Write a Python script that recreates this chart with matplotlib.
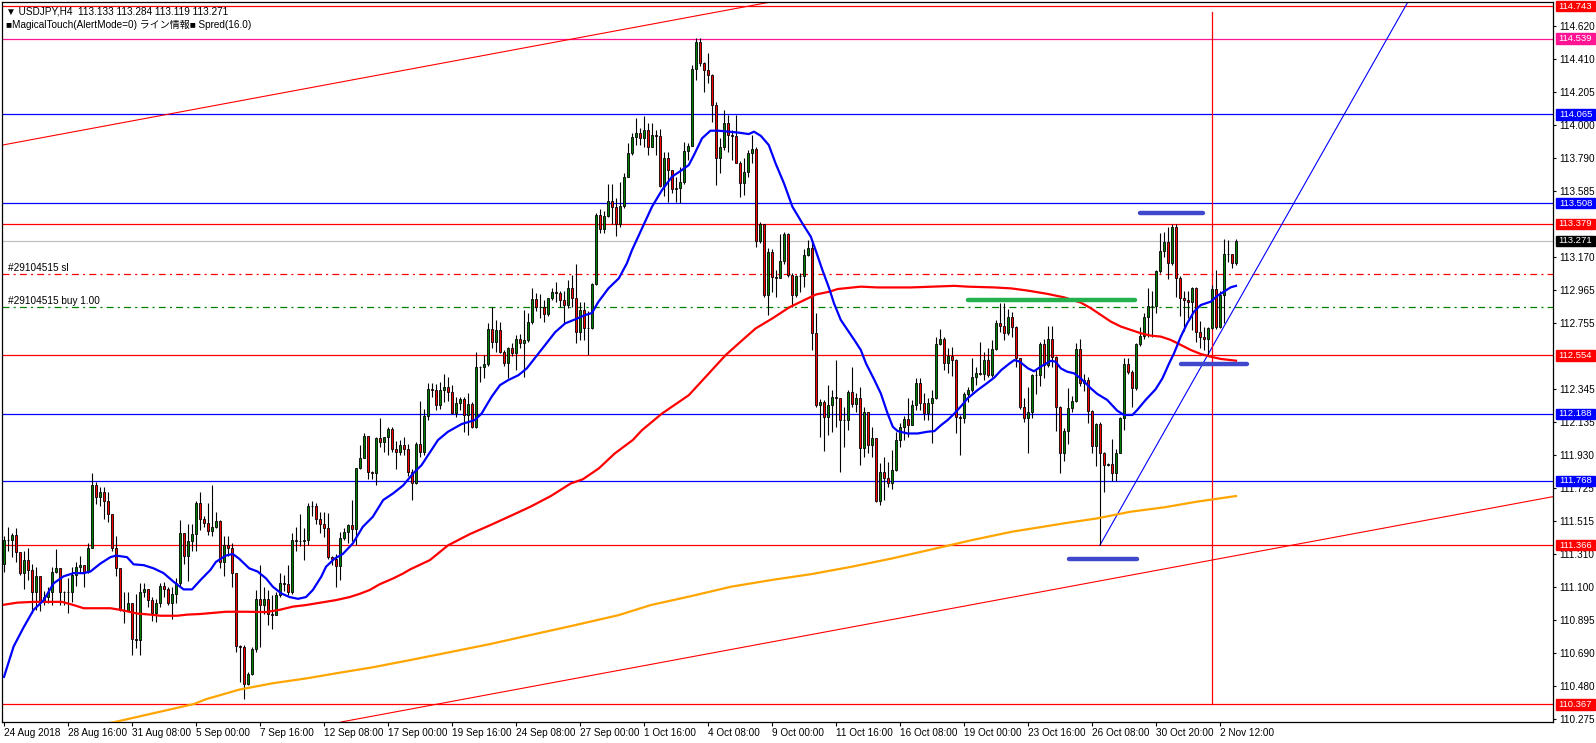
import matplotlib
matplotlib.use('Agg')
import matplotlib.pyplot as plt
import numpy as np
from matplotlib.patches import Rectangle
from matplotlib.transforms import blended_transform_factory

# USDJPY H4 candles, index = bar number from the left edge
first_open = 111.25
closes = [
    111.40, 111.40, 111.43, 111.32, 111.19, 111.27, 111.21, 111.07, 111.17, 111.01,
    111.04, 111.07, 111.20, 111.22, 111.07, 111.07, 111.07, 111.18, 111.23, 111.24,
    111.20, 111.35, 111.74, 111.67, 111.70, 111.64, 111.56, 111.35, 111.22, 110.96,
    110.955, 111.00, 110.775, 110.77, 111.07, 111.09, 111.02, 110.94, 111.00, 111.11,
    111.09, 111.00, 111.06, 111.13, 111.44, 111.30, 111.39, 111.435, 111.63, 111.53,
    111.506, 111.456, 111.48, 111.516, 111.261, 111.366, 111.345, 111.188, 110.733, 110.73,
    110.494, 110.561, 110.712, 111.031, 110.99, 111.031, 110.937, 110.93, 111.05, 111.125,
    111.12, 111.073, 111.397, 111.39, 111.39, 111.40, 111.61, 111.61, 111.527, 111.50,
    111.47, 111.288, 111.28, 111.234, 111.408, 111.45, 111.491, 111.464, 111.846, 111.909,
    112.049, 111.825, 111.82, 112.034, 112.013, 112.04, 112.093, 111.965, 111.95, 111.992,
    111.97, 111.825, 111.756, 111.999, 111.95, 112.174, 112.341, 112.34, 112.243, 112.337,
    112.358, 112.326, 112.195, 112.253, 112.28, 112.18, 112.249, 112.107, 112.479, 112.479,
    112.50, 112.717, 112.64, 112.713, 112.577, 112.508, 112.598, 112.57, 112.66, 112.629,
    112.65, 112.765, 112.905, 112.859, 112.86, 112.813, 112.911, 112.953, 112.943, 112.90,
    112.87, 112.974, 112.911, 112.702, 112.838, 112.723, 112.725, 113.001, 113.434, 113.344,
    113.427, 113.521, 113.486, 113.377, 113.49, 113.674, 113.82, 113.92, 113.945, 113.914,
    113.966, 113.862, 113.935, 113.93, 113.615, 113.789, 113.716, 113.594, 113.60, 113.642,
    113.837, 113.866, 114.347, 114.52, 114.384, 114.342, 114.311, 114.123, 113.789, 113.862,
    114.012, 113.935, 113.93, 113.762, 113.632, 113.705, 113.824, 113.847, 113.273, 113.377,
    112.932, 113.204, 113.043, 113.04, 113.147, 113.314, 113.058, 112.932, 113.051, 113.05,
    113.183, 113.225, 112.696, 112.243, 112.265, 112.17, 112.243, 112.295, 112.29, 112.149,
    112.15, 112.326, 112.249, 112.285, 111.977, 112.201, 111.992, 112.034, 111.643, 111.825,
    111.783, 111.752, 111.836, 112.024, 112.107, 112.153, 112.12, 112.243, 112.383, 112.258,
    112.195, 112.253, 112.285, 112.625, 112.66, 112.504, 112.55, 112.525, 112.166, 112.16,
    112.312, 112.34, 112.416, 112.441, 112.44, 112.525, 112.431, 112.592, 112.759, 112.738,
    112.692, 112.792, 112.73, 112.535, 112.228, 112.159, 112.201, 112.432, 112.43, 112.626,
    112.494, 112.655, 112.546, 112.233, 111.941, 112.083, 112.222, 112.271, 112.592, 112.38,
    112.40, 112.208, 111.987, 112.124, 111.941, 111.868, 111.874, 111.815, 111.941, 112.16,
    112.50, 112.452, 112.348, 112.626, 112.676, 112.793, 112.864, 112.864, 113.083, 113.211,
    113.263, 113.131, 113.357, 113.037, 112.912, 112.902, 112.891, 112.975, 112.703, 112.671,
    112.655, 112.724, 112.968, 112.735, 112.933, 113.19, 113.19, 113.133, 113.271,
]
highs = [
    111.42, 111.48, 111.44, 111.47, 111.32, 111.33, 111.35, 111.25, 111.23, 111.17,
    111.08, 111.10, 111.23, 111.34, 111.22, 111.08, 111.16, 111.23, 111.26, 111.30,
    111.24, 111.38, 111.82, 111.76, 111.73, 111.73, 111.70, 111.56, 111.42, 111.22,
    111.07, 111.07, 111.00, 111.06, 111.13, 111.125, 111.08, 111.04, 111.025, 111.125,
    111.135, 111.10, 111.105, 111.157, 111.52, 111.44, 111.50, 111.50, 111.64, 111.70,
    111.55, 111.63, 111.74, 111.575, 111.52, 111.42, 111.42, 111.376, 111.19, 110.74,
    110.74, 110.572, 110.725, 111.084, 111.24, 111.105, 111.084, 111.05, 111.073, 111.188,
    111.18, 111.24, 111.44, 111.48, 111.56, 111.47, 111.627, 111.64, 111.627, 111.573,
    111.573, 111.568, 111.30, 111.31, 111.45, 111.47, 111.50, 111.65, 111.85, 111.99,
    112.065, 112.04, 111.83, 112.04, 112.16, 112.045, 112.107, 112.107, 112.02, 112.025,
    112.045, 112.00, 111.84, 112.01, 112.27, 112.22, 112.379, 112.38, 112.378, 112.39,
    112.437, 112.42, 112.37, 112.295, 112.295, 112.295, 112.316, 112.264, 112.577, 112.49,
    112.556, 112.76, 112.86, 112.775, 112.765, 112.587, 112.608, 112.63, 112.682, 112.69,
    112.84, 112.817, 112.974, 112.943, 112.94, 112.90, 112.915, 112.974, 113.015, 112.96,
    112.96, 113.026, 113.057, 113.126, 112.89, 112.89, 112.83, 113.01, 113.444, 113.47,
    113.46, 113.626, 113.63, 113.538, 113.643, 113.70, 113.883, 113.945, 114.04, 113.977,
    114.054, 114.008, 114.008, 113.966, 113.97, 113.83, 113.83, 113.716, 113.67, 113.737,
    113.893, 113.883, 114.374, 114.54, 114.54, 114.395, 114.447, 114.32, 114.144, 113.914,
    114.092, 114.06, 113.966, 114.06, 113.77, 113.79, 113.84, 113.935, 113.86, 113.392,
    113.38, 113.225, 113.22, 113.09, 113.315, 113.33, 113.323, 113.07, 113.058, 113.07,
    113.218, 113.277, 113.277, 112.82, 112.28, 112.275, 112.368, 112.337, 112.525, 112.29,
    112.23, 112.337, 112.483, 112.316, 112.358, 112.232, 112.149, 112.107, 112.034, 111.881,
    111.919, 111.888, 111.961, 112.076, 112.128, 112.174, 112.285, 112.274, 112.41, 112.41,
    112.316, 112.285, 112.337, 112.671, 112.717, 112.671, 112.60, 112.608, 112.53, 112.18,
    112.326, 112.358, 112.535, 112.483, 112.64, 112.577, 112.60, 112.65, 112.776, 112.88,
    112.88, 112.842, 112.828, 112.74, 112.54, 112.285, 112.358, 112.44, 112.46, 112.64,
    112.66, 112.74, 112.74, 112.55, 112.24, 112.10, 112.35, 112.30, 112.63, 112.66,
    112.44, 112.42, 112.21, 112.13, 112.14, 111.95, 111.88, 112.03, 111.97, 112.17,
    112.535, 112.535, 112.46, 112.63, 112.735, 112.82, 112.975, 112.96, 113.09, 113.32,
    113.33, 113.36, 113.378, 113.378, 113.05, 112.96, 112.96, 112.985, 112.985, 112.77,
    112.735, 112.735, 112.995, 113.09, 112.96, 113.282, 113.28, 113.18, 113.284,
]
lows = [
    111.20, 111.33, 111.29, 111.26, 111.18, 111.09, 111.15, 110.94, 110.96, 110.95,
    110.99, 111.00, 110.99, 111.19, 110.99, 110.99, 110.94, 111.01, 111.11, 111.20,
    111.10, 111.19, 111.35, 111.62, 111.61, 111.53, 111.51, 111.33, 111.17, 110.95,
    110.875, 110.95, 110.68, 110.72, 110.68, 111.04, 110.98, 110.89, 110.885, 110.98,
    111.04, 110.99, 110.90, 111.00, 111.105, 111.25, 111.14, 111.33, 111.33, 111.46,
    111.48, 111.43, 111.42, 111.47, 111.22, 111.17, 111.30, 111.105, 110.697, 110.51,
    110.40, 110.49, 110.55, 110.697, 110.73, 110.937, 110.864, 110.84, 110.937, 111.04,
    111.08, 111.05, 111.06, 111.33, 111.36, 111.27, 111.365, 111.545, 111.50, 111.44,
    111.418, 111.28, 111.24, 111.10, 111.15, 111.40, 111.38, 111.39, 111.366, 111.84,
    111.91, 111.777, 111.777, 111.742, 111.98, 111.95, 111.93, 111.95, 111.84, 111.93,
    111.93, 111.80, 111.65, 111.75, 111.92, 111.93, 112.15, 112.295, 112.21, 112.22,
    112.264, 112.27, 112.186, 112.17, 112.21, 112.076, 112.055, 112.097, 112.097, 112.39,
    112.41, 112.49, 112.598, 112.577, 112.57, 112.49, 112.41, 112.55, 112.462, 112.60,
    112.42, 112.64, 112.75, 112.83, 112.786, 112.765, 112.80, 112.90, 112.89, 112.86,
    112.755, 112.85, 112.86, 112.63, 112.65, 112.65, 112.556, 112.72, 112.995, 113.323,
    113.32, 113.42, 113.38, 113.30, 113.357, 113.48, 113.685, 113.81, 113.873, 113.873,
    113.862, 113.81, 113.858, 113.81, 113.61, 113.55, 113.517, 113.57, 113.517, 113.507,
    113.63, 113.78, 113.866, 114.28, 114.37, 114.207, 114.259, 114.018, 113.622, 113.695,
    113.84, 113.83, 113.78, 113.757, 113.548, 113.559, 113.674, 113.757, 113.235, 113.256,
    112.92, 112.807, 112.953, 112.92, 113.037, 113.13, 113.047, 112.86, 112.92, 112.953,
    112.985, 113.175, 112.588, 112.232, 112.044, 111.957, 112.055, 112.076, 112.107, 111.825,
    111.98, 112.086, 112.23, 112.201, 111.867, 111.92, 111.94, 111.92, 111.637, 111.616,
    111.648, 111.731, 111.72, 111.83, 111.98, 112.024, 112.045, 112.128, 112.21, 112.21,
    112.149, 112.149, 112.003, 112.28, 112.62, 112.462, 112.441, 112.425, 112.065, 111.93,
    112.128, 112.264, 112.327, 112.368, 112.43, 112.40, 112.42, 112.42, 112.59, 112.70,
    112.65, 112.68, 112.67, 112.483, 112.22, 112.139, 111.944, 112.16, 112.31, 112.36,
    112.41, 112.48, 112.48, 112.08, 111.815, 111.89, 112.00, 112.20, 112.26, 112.36,
    112.33, 112.13, 111.94, 111.86, 111.366, 111.70, 111.86, 111.77, 111.77, 111.94,
    112.087, 112.44, 112.233, 112.34, 112.61, 112.66, 112.67, 112.67, 112.82, 113.07,
    113.17, 113.03, 113.12, 112.92, 112.80, 112.71, 112.79, 112.715, 112.64, 112.60,
    112.59, 112.557, 112.72, 112.72, 112.725, 112.755, 113.142, 113.10, 113.119,
]

# moving averages (bar, price)
ma_fast_bar = [0, 2.4, 4.9, 7.4, 9.9, 12.4, 14.9, 17.4, 19.9, 21.6, 24.1, 26.6, 28, 30.75,
               32.4, 34.9, 37.4, 39.9, 42.4, 44.9, 47, 49.1, 51.6, 53, 55.5, 57.2, 58.8,
               61.3, 63.4, 65.5, 67.2, 69.3, 71.4, 73.5, 75.5, 77.2, 79.3, 80.5, 82.6, 84.7,
               87.2, 89.7, 92.2, 94.8, 97.3, 99.8, 102.3, 104.4, 108.5, 111, 114.4, 117.7,
               119.4, 121.9, 124, 126.1, 128.6, 130.7, 132.8, 135.3, 137.8, 140.3, 142.8,
               145.3, 147, 148.6, 151.1, 153.7, 155.7, 157, 159.5, 162, 164.5, 167, 169.5,
               171.2, 172.5, 174.5, 176.6, 178.7, 181.2, 183.7, 186.2, 187.5, 189.2, 191.2,
               192.9, 195, 197.1, 199.6, 201.7, 202.9, 204.6, 206.3, 207.5, 209.2, 210.9,
               212.6, 214.2, 215.5, 217.6, 219.2, 220.9, 222.2, 223.4, 225.9, 228.4, 230.9,
               232.6, 234.3, 235.9, 237.6, 239.3, 240.9, 243.4, 245.9, 247.6, 249.3, 251.4,
               252.6, 253.9, 256, 257.5, 259.2, 261.7, 262.9, 264.2, 265.8, 267.5, 269.2,
               271.7, 273.3, 275.8, 278.3, 280, 282.1, 283.3, 285.4, 287.9, 289.6, 291.3,
               292.5, 294.2, 295.8, 297.5, 299.2, 301.7, 303.3, 305, 306.7, 308]
ma_fast = [110.54, 110.73, 110.85, 110.96, 111.02, 111.126, 111.17, 111.19, 111.19, 111.20,
           111.25, 111.29, 111.30, 111.29, 111.245, 111.24, 111.22, 111.19, 111.136, 111.088,
           111.088, 111.146, 111.21, 111.261, 111.30, 111.31, 111.28, 111.22, 111.20, 111.157,
           111.105, 111.063, 111.04, 111.029, 111.04, 111.084, 111.167, 111.23, 111.28,
           111.31, 111.376, 111.48, 111.543, 111.648, 111.69, 111.74, 111.815, 111.867,
           112.024, 112.076, 112.124, 112.149, 112.19, 112.295, 112.368, 112.40, 112.43,
           112.473, 112.54, 112.62, 112.70, 112.755, 112.78, 112.807, 112.82, 112.89, 112.974,
           113.037, 113.13, 113.214, 113.35, 113.486, 113.59, 113.674, 113.716, 113.747,
           113.81, 113.914, 113.962, 113.962, 113.956, 113.95, 113.941, 113.956, 113.93,
           113.872, 113.757, 113.632, 113.486, 113.381, 113.298, 113.214, 113.089, 112.974,
           112.88, 112.776, 112.713, 112.65, 112.588, 112.504, 112.40, 112.316, 112.19,
           112.107, 112.08, 112.065, 112.065, 112.076, 112.08, 112.118, 112.149, 112.19,
           112.237, 112.285, 112.337, 112.383, 112.416, 112.462, 112.504, 112.525, 112.515,
           112.473, 112.455, 112.484, 112.52, 112.515, 112.473, 112.452, 112.442, 112.41,
           112.348, 112.313, 112.275, 112.208, 112.181, 112.181, 112.212, 112.275, 112.342,
           112.41, 112.505, 112.567, 112.672, 112.755, 112.828, 112.87, 112.891, 112.927,
           112.954, 112.981, 112.99]

ma_mid_bar = [0, 3.3, 7.4, 14.5, 17.4, 19.9, 26.6, 29.1, 33.3, 36.6, 39.1, 43.3, 45.8, 49.1,
              55.5, 60.5, 65.5, 68.9, 72.2, 75.5, 78.9, 83, 86.4, 88.9, 91.4, 93.9, 97.3,
              99.8, 101.5, 106.5, 111, 116.5, 121.6, 126.6, 131.6, 136.7, 141.7, 144.7, 148.7,
              152.7, 157.2, 159.5, 164.5, 171.2, 176.2, 180.4, 183.7, 187.9, 192.1, 196.3,
              200.4, 203, 206.3, 208.4, 214.2, 218.4, 226.7, 237.6, 240.9, 247.6, 251.8, 256,
              260.8, 265, 269.2, 271.7, 274.2, 276.7, 279.2, 281.7, 284.2, 286.7, 289.2, 291.7,
              294.2, 296.7, 299.2, 301.7, 304.2, 308]
ma_mid = [110.992, 111.005, 111.01, 111.01, 110.99, 110.97, 110.97, 110.96, 110.937, 110.93,
          110.923, 110.923, 110.93, 110.934, 110.948, 110.948, 110.946, 110.96, 110.98, 110.99,
          111.004, 111.021, 111.04, 111.06, 111.084, 111.12, 111.157, 111.188, 111.213, 111.272,
          111.364, 111.435, 111.491, 111.548, 111.606, 111.673, 111.752, 111.778, 111.846,
          111.94, 112.024, 112.086, 112.19, 112.305, 112.441, 112.556, 112.63, 112.723, 112.786,
          112.855, 112.905, 112.936, 112.953, 112.97, 112.985, 112.98, 112.98, 112.99, 112.985,
          112.98, 112.974, 112.96, 112.94, 112.918, 112.885, 112.85, 112.808, 112.766, 112.735,
          112.714, 112.693, 112.678, 112.672, 112.651, 112.62, 112.588, 112.563, 112.546,
          112.532, 112.521]

ma_slow_bar = [20, 27.7, 47.5, 50.5, 58.8, 67.2, 75.5, 83.9, 92.2, 101.5, 111.5, 121.6, 131.6,
               141.7, 153.7, 161.7, 171.8, 181.8, 191.9, 201.9, 211.9, 222, 232, 242, 252.1,
               258.9, 265, 273.3, 281.7, 290, 298.3, 308]
ma_slow = [110.225, 110.257, 110.37, 110.40, 110.46, 110.50, 110.53, 110.566, 110.60, 110.645,
           110.695, 110.746, 110.802, 110.858, 110.927, 110.99, 111.046, 111.105, 111.147,
           111.184, 111.23, 111.282, 111.339, 111.397, 111.45, 111.477, 111.502, 111.533,
           111.575, 111.602, 111.638, 111.673]

# horizontal line objects and their colours
levels = [114.743, 114.539, 114.065, 113.508, 113.379, 112.554, 112.188, 111.768, 111.366, 110.367]
level_colors = ['#FF0000', '#FF1493', '#0000FF', '#0000FF', '#FF0000', '#FF0000',
                '#0000FF', '#0000FF', '#FF0000', '#FF0000']
bid = 113.271
sl_level = 113.062
buy_level = 112.855

# trend lines (bar, price) pairs
channel_top = [(0, 113.874), (192, 114.770)]
channel_bottom = [(84, 110.256), (387, 111.668)]
uptrend = [(274, 111.366), (351, 114.770)]
vline_bar = 302
vline_range = (110.367, 114.705)

# thick marker segments: (bar start, bar end, price)
blue_marks = [(266.25, 283.25, 111.277), (284.0, 299.75, 113.447), (294.25, 310.75, 112.50)]
green_marks = [(241.0, 282.75, 112.90)]

yticks = [114.620, 114.410, 114.205, 114.000, 113.790, 113.585, 113.170, 112.965, 112.755,
          112.345, 112.135, 111.930, 111.725, 111.515, 111.310, 111.100, 110.895, 110.690,
          110.480, 110.275]
date_labels = ['24 Aug 2018', '28 Aug 16:00', '31 Aug 08:00', '5 Sep 00:00', '7 Sep 16:00',
               '12 Sep 08:00', '17 Sep 00:00', '19 Sep 16:00', '24 Sep 08:00', '27 Sep 00:00',
               '1 Oct 16:00', '4 Oct 08:00', '9 Oct 00:00', '11 Oct 16:00', '16 Oct 08:00',
               '19 Oct 00:00', '23 Oct 16:00', '26 Oct 08:00', '30 Oct 20:00', '2 Nov 12:00']
date_bars = [16 * k for k in range(len(date_labels))]

plt.rcParams['font.family'] = ['Liberation Sans', 'Noto Sans CJK JP', 'DejaVu Sans']
plt.rcParams['lines.scale_dashes'] = False
FS = 7.2
TAG_FS = 6.8

W, H = 1596, 743
fig = plt.figure(figsize=(W / 100, H / 100), dpi=100)
ax = fig.add_axes([2 / W, 1 - 722 / H, 1551 / W, 720 / H])
ax.set_xlim(-0.5, 387.25)
ax.set_ylim(110.2572, 114.7685)

closes = np.array(closes)
opens = np.concatenate([[first_open], closes[:-1]])
highs = np.maximum(np.array(highs), np.maximum(opens, closes))
lows = np.minimum(np.array(lows), np.minimum(opens, closes))
idx = np.arange(len(closes))

# horizontal levels
for lv, col in zip(levels, level_colors):
    ax.axhline(lv, color=col, lw=0.9, zorder=1)
ax.axhline(bid, color='#C0C0C0', lw=0.9, zorder=1)
ax.axhline(sl_level, color='#FF0000', lw=0.9, dashes=(5, 3, 1.5, 3), zorder=1)
ax.axhline(buy_level, color='#008000', lw=0.9, dashes=(5, 3, 1.5, 3), zorder=1)

# trend lines
ax.axline(channel_top[0], channel_top[1], color='#FF0000', lw=0.8, zorder=1)
ax.axline(channel_bottom[0], channel_bottom[1], color='#FF0000', lw=0.8, zorder=1)
(b0, p0), (b1, p1) = uptrend
slope = (p1 - p0) / (b1 - b0)
ax.plot([b0, b0 + 150], [p0, p0 + 150 * slope], color='#0000FF', lw=0.8, zorder=1)
ax.plot([vline_bar, vline_bar], vline_range, color='#FF0000', lw=0.9, zorder=1)

# candles
ax.vlines(idx, lows, highs, colors='black', lw=0.8, zorder=2)
body_col = np.where(closes >= opens, '#008000', '#FF0000')
ax.bar(idx, closes - opens, bottom=opens, width=0.62, color=body_col,
       edgecolor='black', linewidth=0.6, zorder=3)

# moving averages
ax.plot(ma_slow_bar, ma_slow, color='#FFA500', lw=1.6, zorder=4)
ax.plot(ma_mid_bar, ma_mid, color='#FF0000', lw=1.6, zorder=4)
ax.plot(ma_fast_bar, ma_fast, color='#0000FF', lw=1.6, zorder=4)

# hand drawn marks
for b0, b1, p in blue_marks:
    ax.plot([b0, b1], [p, p], color='#3F48CC', lw=3.2, solid_capstyle='round', zorder=5)
for b0, b1, p in green_marks:
    ax.plot([b0, b1], [p, p], color='#22B14C', lw=3.2, solid_capstyle='round', zorder=5)

# order labels
ax.annotate('#29104515 sl', xy=(1, sl_level), xytext=(0, 1.0), textcoords='offset points',
            fontsize=FS, va='bottom', ha='left')
ax.annotate('#29104515 buy 1.00', xy=(1, buy_level), xytext=(0, 1.0), textcoords='offset points',
            fontsize=FS, va='bottom', ha='left')

# axes styling
for s in ax.spines.values():
    s.set_color('black')
    s.set_linewidth(0.9)
ax.yaxis.tick_right()
ax.set_yticks(yticks)
ax.set_yticklabels([f'{v:.3f}' for v in yticks], fontsize=FS)
ax.tick_params(axis='y', direction='out', length=2.2, width=0.8, pad=2.2, colors='black')
ax.set_xticks(date_bars)
ax.set_xticklabels(date_labels, fontsize=FS, ha='left')
ax.tick_params(axis='x', direction='out', length=2.6, width=0.8, pad=1.5, colors='black')

# price tags on the right scale
trans = blended_transform_factory(ax.transAxes, ax.transData)
tag_x = (1556 - 2) / 1551
tag_w = 39 / 1551
tag_h = 10.5 / 159.6
tags = list(zip(levels, level_colors)) + [(bid, '#000000')]
for lv, col in tags:
    ax.add_patch(Rectangle((tag_x, lv - tag_h / 2), tag_w, tag_h, transform=trans,
                           facecolor=col, edgecolor=col, clip_on=False, zorder=10))
    ax.text(tag_x + tag_w / 2, lv, f'{lv:.3f}', transform=trans, ha='center', va='center',
            color='white', fontsize=TAG_FS, zorder=11, clip_on=False)

# header
fig.text(6 / W, 1 - 11 / H, '\u25bc USDJPY,H4  113.133 113.284 113.119 113.271',
         fontsize=FS, va='center', ha='left')
fig.text(6 / W, 1 - 24.5 / H, '\u25a0MagicalTouch(AlertMode=0) ライン情報\u25a0 Spred(16.0)',
         fontsize=FS, va='center', ha='left')

fig.savefig('out.png', dpi=100, facecolor='white')
